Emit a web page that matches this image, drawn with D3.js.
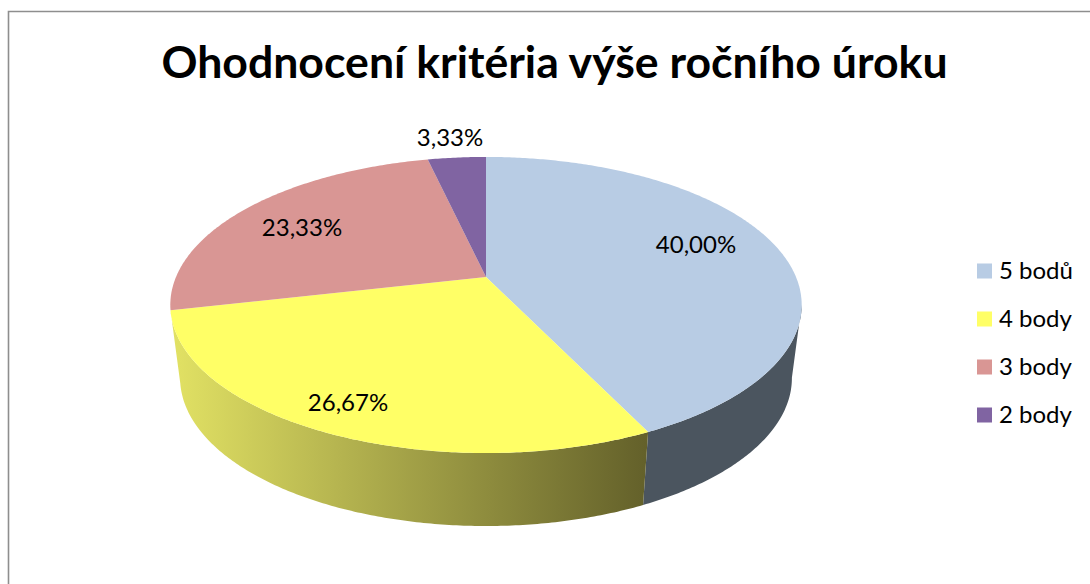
<!DOCTYPE html>
<html><head><meta charset="utf-8">
<script src="https://cdn.jsdelivr.net/npm/d3@7"></script>
<style>html,body{margin:0;padding:0;background:#fff}svg{display:block}text{font-family:Lato,"Open Sans",sans-serif;fill:#000}</style>
</head><body><svg id="c" width="1090" height="584"></svg>
<script>
const title = "Ohodnocení kritéria výše ročního úroku";
const categories = ["5 bodů","4 body","3 body","2 body"];
const counts = [12,8,7,1];
const labels = ["40,00%","26,67%","23,33%","3,33%"];
const topColors = ["#b8cce4","#ffff66","#d99694","#8064a2"];

const svg = d3.select("#c");
svg.append("path").attr("d","M1090 11.5H8.5V584").attr("fill","none").attr("stroke","#8e8e8e").attr("stroke-width",1.6);

svg.append("text").attr("x",554.5).attr("y",78).attr("text-anchor","middle")
  .attr("font-size",44.6).attr("font-weight",700).text(title);

// Perspective projection of the unit disc onto the page
const cx=486, apexY=277, persp=-0.189, yGain=90.4, xGain=310;
const project = (t,scale=1,drop=0)=>{
  const u=Math.sin(t), v=-Math.cos(t), w=1+persp*v;
  return [cx+scale*xGain*u/w, (apexY+yGain*v)/w+drop];
};
const sample=(a,b,scale,drop)=>{
  const n=Math.max(2,Math.ceil(Math.abs(b-a)/0.01));
  return d3.range(n+1).map(i=>project(a+(b-a)*i/n,scale,drop));
};
const line=d3.line();
const arcs=d3.pie().value(d=>d).sort(null)(counts);

const wallScale=0.969, wallDrop=73;
const defs=svg.append("defs");
const grad=defs.append("linearGradient").attr("id","yw").attr("gradientUnits","userSpaceOnUse")
  .attr("x1",171).attr("x2",648).attr("y1",0).attr("y2",0);
grad.append("stop").attr("offset",0).attr("stop-color","#e2e264");
grad.append("stop").attr("offset",1).attr("stop-color","#63602a");

const wallFill=["#4b555f","url(#yw)"];
const frontStart=1.76;
arcs.slice(0,2).forEach((a,i)=>{
  const s=Math.max(a.startAngle,frontStart), e=a.endAngle;
  svg.append("path").attr("fill",wallFill[i])
    .attr("d",line([...sample(s,e,1,0),...sample(e,s,wallScale,wallDrop)])+"Z");
});
arcs.forEach((a,i)=>{
  svg.append("path").attr("fill",topColors[i])
    .attr("d",line([[cx,apexY],...sample(a.startAngle,a.endAngle,1,0)])+"Z");
});

const labelPos=[[696,253],[348,411],[302,236],[450,146]];
labels.forEach((t,i)=>svg.append("text").attr("x",labelPos[i][0]).attr("y",labelPos[i][1])
  .attr("text-anchor","middle").attr("font-size",24).text(t));

const ly=d3.scalePoint().domain(categories).range([271,415]);
categories.forEach((c,i)=>{
  svg.append("rect").attr("x",977).attr("y",ly(c)-7.5).attr("width",15).attr("height",15).attr("fill",topColors[i]);
  svg.append("text").attr("x",999).attr("y",ly(c)+8).attr("font-size",24).text(c);
});
</script></body></html>
